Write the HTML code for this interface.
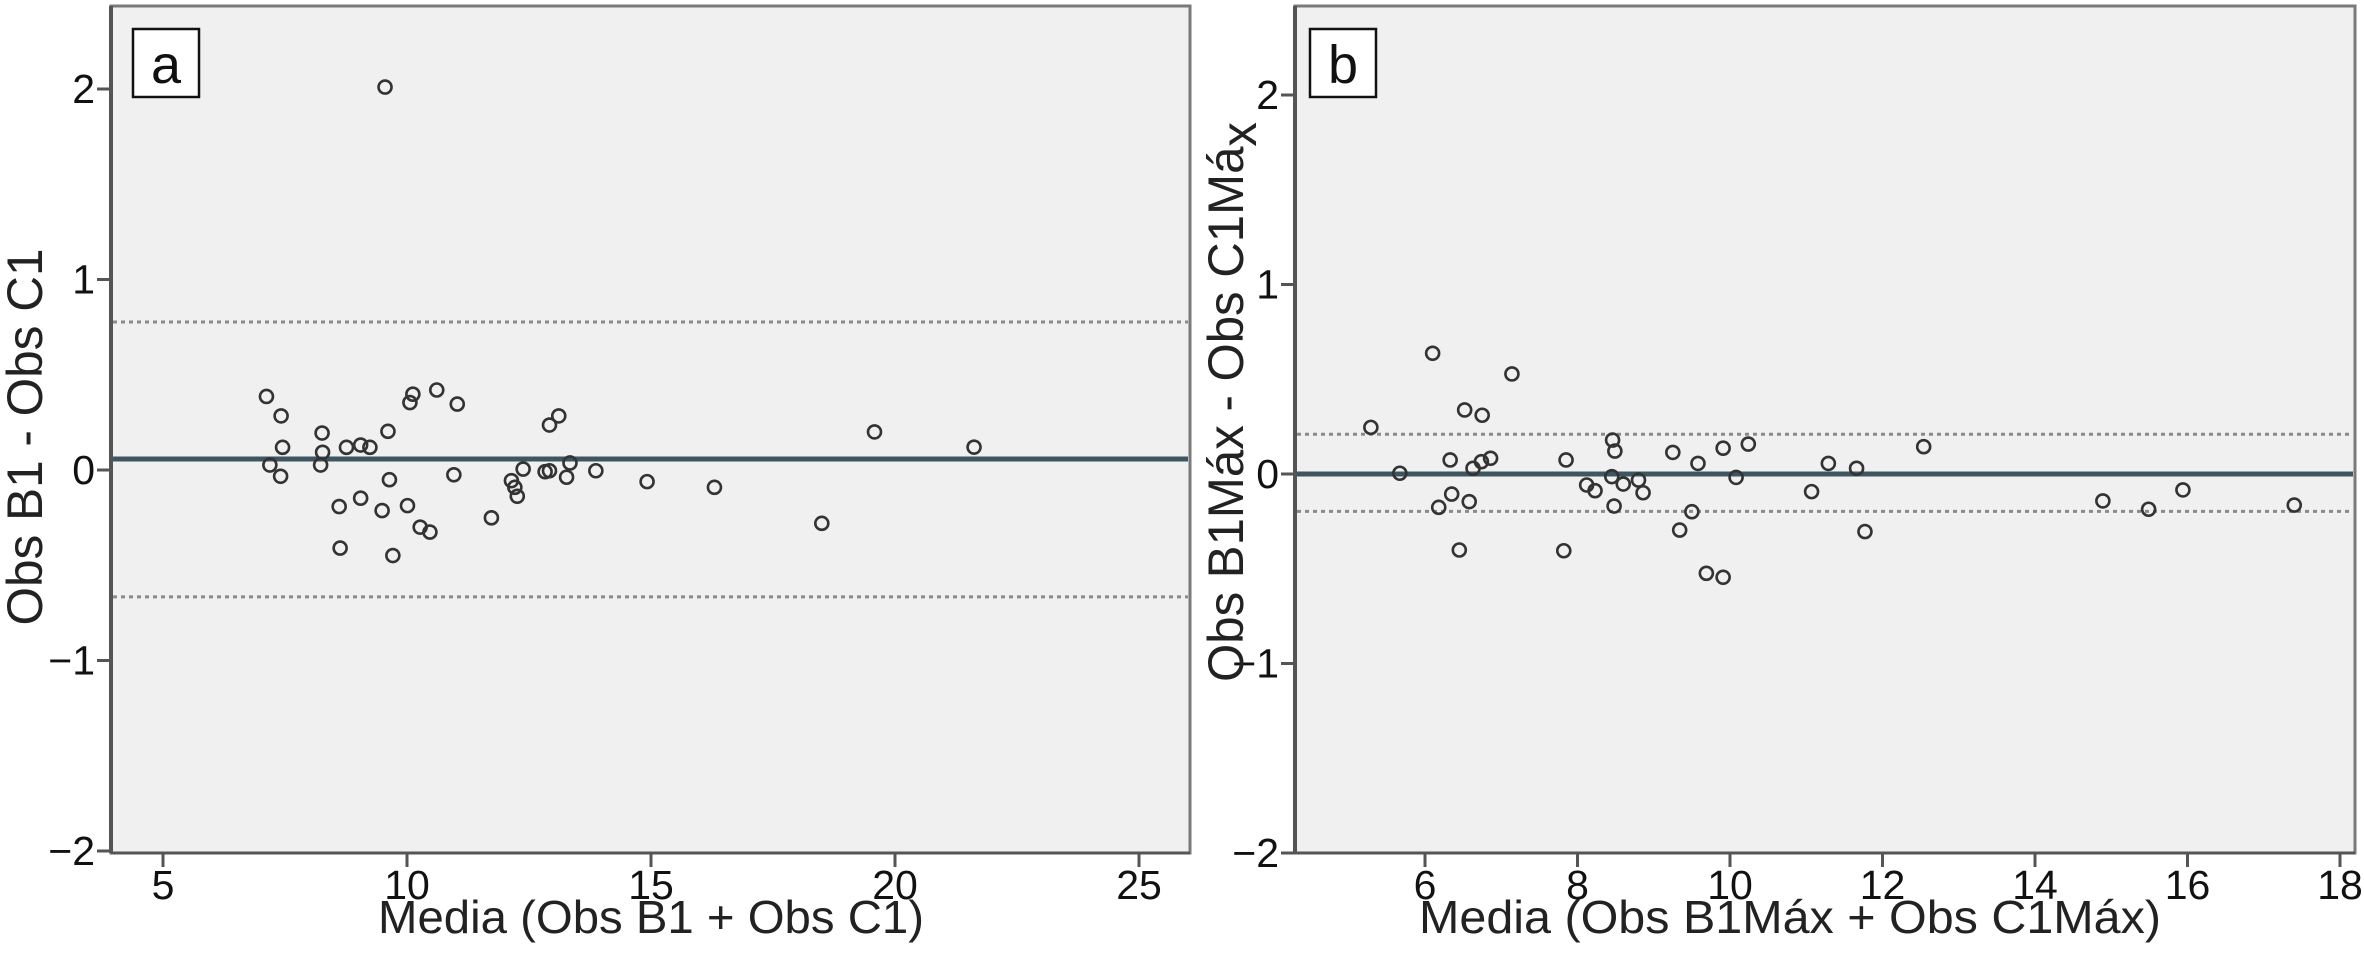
<!DOCTYPE html>
<html><head><meta charset="utf-8"><style>
html,body{margin:0;padding:0;background:#fff;}
svg{display:block;font-family:"Liberation Sans",sans-serif;}
</style></head><body>
<svg id="chart" width="2364" height="978" viewBox="0 0 2364 978" xmlns="http://www.w3.org/2000/svg">
<g id="pa"></g>
<g id="pb"></g>
</svg>
<script>
// Panel a data
const aX = [7.12,7.42,7.45,7.19,7.41,8.26,8.27,8.23,8.76,9.05,9.24,9.61,9.64,8.61,9.05,9.49,10.01,8.63,9.71,10.12,10.06,10.61,11.03,10.96,10.27,10.47,11.73,12.38,12.14,12.21,12.26,12.92,13.11,12.83,12.92,13.27,13.34,13.87,14.92,16.30,9.55,18.50,19.58,21.62];
const aY = [0.386,0.284,0.119,0.026,-0.033,0.194,0.093,0.026,0.119,0.131,0.119,0.203,-0.051,-0.192,-0.148,-0.213,-0.187,-0.410,-0.449,0.398,0.354,0.420,0.346,-0.025,-0.300,-0.326,-0.251,0.005,-0.056,-0.091,-0.138,0.236,0.284,-0.009,-0.004,-0.038,0.037,-0.004,-0.061,-0.091,2.01,-0.28,0.20,0.12];
const aLines = [0.058, 0.777, -0.666];
const aXTicks = [5,10,15,20,25];
const aYTicks = [2,1,0,-1,-2];
// Panel b data
const bX = [5.29,5.67,6.10,6.33,6.35,6.18,6.45,6.52,6.58,6.63,6.75,6.74,6.86,7.14,7.85,7.82,8.12,8.23,8.46,8.49,8.45,8.60,8.80,8.86,8.48,9.25,9.34,9.50,9.58,9.91,10.08,10.24,9.69,9.91,11.07,11.29,11.66,11.77,12.54,14.89,15.49,15.94,17.40];
const bY = [0.246,0.004,0.637,0.074,-0.106,-0.176,-0.401,0.338,-0.146,0.030,0.310,0.065,0.083,0.528,0.074,-0.405,-0.058,-0.088,0.179,0.121,-0.014,-0.053,-0.032,-0.099,-0.169,0.114,-0.296,-0.199,0.056,0.136,-0.018,0.158,-0.524,-0.545,-0.093,0.056,0.030,-0.304,0.144,-0.142,-0.186,-0.084,-0.164];
const bLines = [0.0, 0.21, -0.197];
const bXTicks = [6,8,10,12,14,16,18];
const bYTicks = [2,1,0,-1,-2];

const NS="http://www.w3.org/2000/svg";
function mk(parent, tag, attrs, text){
  const e=document.createElementNS(NS,tag);
  for(const k in attrs) e.setAttribute(k,attrs[k]);
  if(text!==undefined) e.textContent=text;
  parent.appendChild(e); return e;
}
function fmt(v){return v<0?"\u2212"+Math.abs(v):String(v);}

function panel(g, cfg){
  const sx=v=>cfg.x0+(v-cfg.xv0)*cfg.xs;
  const sy=v=>cfg.y0-v*cfg.ys;
  const bg=mk(g,'rect',{x:cfg.L,y:cfg.T,width:cfg.R-cfg.L,height:cfg.B-cfg.T,fill:'#f0f0f0',stroke:'#7a7a7a','stroke-width':3});
  
  
  const ax=mk(g,'line',{x1:cfg.L,y1:cfg.T,x2:cfg.L,y2:cfg.B,stroke:'#555','stroke-width':4});
  
  
  const bx=mk(g,'line',{x1:cfg.L,y1:cfg.B,x2:cfg.R,y2:cfg.B,stroke:'#555','stroke-width':3});
  
  
  cfg.yt.forEach(v=>{
    const y=sy(v);
    const t=mk(g,'line',{x1:cfg.L-14,y1:y,x2:cfg.L,y2:y,stroke:'#555','stroke-width':3});
    
    
    const l=mk(g,'text',{x:cfg.L-16,y:y+14,'text-anchor':'end','font-size':41,fill:'#111'},fmt(v));
    
    
  });
  cfg.xt.forEach(v=>{
    const x=sx(v);
    const t=mk(g,'line',{x1:x,y1:cfg.B,x2:x,y2:cfg.B+14,stroke:'#555','stroke-width':3});
    
    
    const l=mk(g,'text',{x:x,y:899,'text-anchor':'middle','font-size':41,fill:'#111'},fmt(v));
    
    
  });
  cfg.lines.forEach((v,i)=>{
    const y=sy(v);
    const ln=mk(g,'line',{x1:cfg.L+2,y1:y,x2:cfg.R-2,y2:y,stroke:i===0?'#3e5660':'#8a8a8a','stroke-width':i===0?5:3,'stroke-dasharray':i===0?'none':'4,4'});
    
    
  });
  cfg.xs_.forEach((xv,i)=>{
    const c=mk(g,'circle',{cx:sx(xv),cy:sy(cfg.ys_[i]),r:6.5,fill:'none',stroke:'#333','stroke-width':2.6});
    
    
  });
  const lb=mk(g,'rect',{x:cfg.bx,y:29,width:66,height:68,fill:'#fff',stroke:'#111','stroke-width':2.5});
  
  
  const lt=mk(g,'text',{x:cfg.bx+33,y:83,'text-anchor':'middle','font-size':54,fill:'#111'},cfg.label);
  
  
}

panel(document.getElementById('pa'),{L:111,R:1190,T:6,B:853,x0:163,xv0:5,xs:48.8,y0:470,ys:190.5,
  xt:aXTicks,yt:aYTicks,lines:aLines,xs_:aX,ys_:aY,bx:133,label:'a'});
panel(document.getElementById('pb'),{L:1295,R:2355,T:6,B:853,x0:1425,xv0:6,xs:76.25,y0:474,ys:189.5,
  xt:bXTicks,yt:bYTicks,lines:bLines,xs_:bX,ys_:bY,bx:1310,label:'b'});

const svg=document.getElementById('chart');
let t=mk(svg,'text',{x:651,y:933,'text-anchor':'middle','font-size':46,fill:'#222',textLength:546,lengthAdjust:'spacingAndGlyphs'},'Media (Obs B1 + Obs C1)');


t=mk(svg,'text',{x:1790,y:933,'text-anchor':'middle','font-size':46,fill:'#222',textLength:742,lengthAdjust:'spacingAndGlyphs'},'Media (Obs B1Máx + Obs C1Máx)');


t=mk(svg,'text',{x:0,y:0,'text-anchor':'middle','font-size':50,fill:'#222',textLength:377,lengthAdjust:'spacingAndGlyphs',transform:'translate(42,437) rotate(-90)'},'Obs B1 - Obs C1');


t=mk(svg,'text',{x:0,y:0,'text-anchor':'middle','font-size':50,fill:'#222',textLength:560,lengthAdjust:'spacingAndGlyphs',transform:'translate(1243,402) rotate(-90)'});


mk(t,'tspan',{},'Obs B1Máx - Obs C1Má');
mk(t,'tspan',{dy:13},'x');
</script>
</body></html>
